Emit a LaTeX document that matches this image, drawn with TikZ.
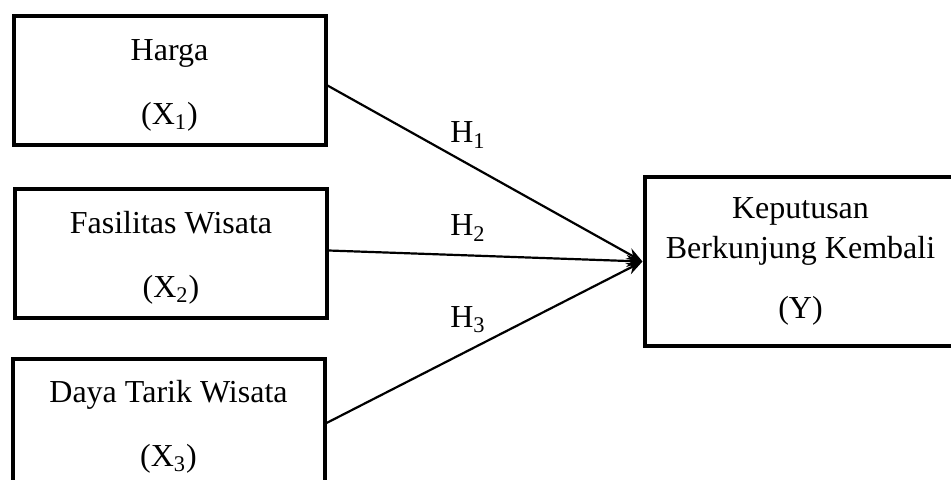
\documentclass[tikz,border=0pt]{standalone}
\usepackage{fontspec}
\setmainfont{Liberation Serif}
\usetikzlibrary{arrows.meta,positioning}
\newcommand\topstrut{\rule{0pt}{15pt}}
\tikzset{
    % variable boxes
    varbox/.style={
           draw,
           line width=2pt,
           minimum width=156pt,
           minimum height=64.5pt,
           align=center,
           font=\fontsize{16}{19}\selectfont},
    % hypothesis arrows
    pil/.style={
           -{Stealth[length=8pt,width=6pt]},
           line width=1.1pt},
    hyp/.style={font=\fontsize{16}{19}\selectfont}
}
\begin{document}
\begin{tikzpicture}[x=0.5pt,y=-0.5pt]
  \clip (0,0) rectangle (951,479);
  \node[varbox] (x1) at (169.5,80.5) {\topstrut Harga\\[13pt](X\textsubscript{1})};
  \node[varbox] (x2) at (171,253.5) {\topstrut Fasilitas Wisata\\[13pt](X\textsubscript{2})};
  \node[varbox] (x3) at (168.5,423) {\topstrut Daya Tarik Wisata\\[13pt](X\textsubscript{3})};
  \node[varbox,minimum height=84.5pt] (y) at (800.5,261.5) {Keputusan\\[1pt]Berkunjung Kembali\\[11pt](Y)};
  \node[hyp] (h1) at (468,135) {H\textsubscript{1}};
  \node[hyp] (h2) at (468,228) {H\textsubscript{2}};
  \node[hyp] (h3) at (468,320) {H\textsubscript{3}};
  \draw [pil] (x1.east) ++(0,5) -- (y.west);
  \draw [pil] (x2.east) ++(0,-3) -- (y.west);
  \draw [pil] (x3.east) -- (y.west);
\end{tikzpicture}
\end{document}
